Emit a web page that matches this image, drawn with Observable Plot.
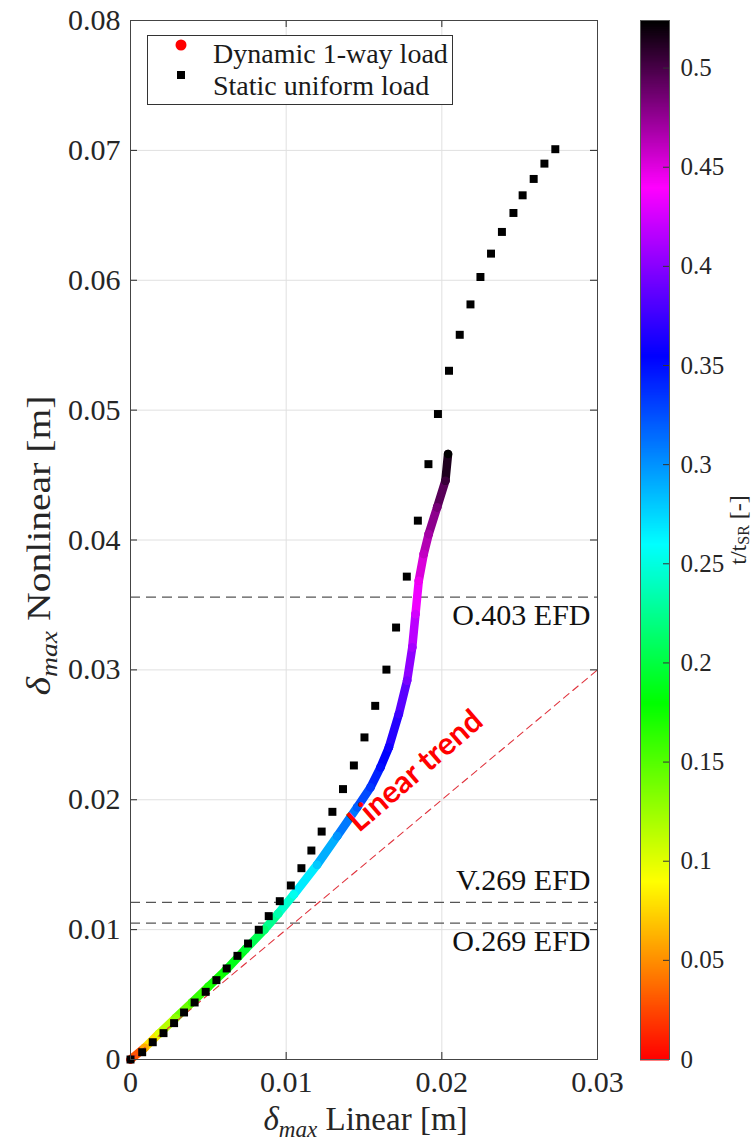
<!DOCTYPE html>
<html><head><meta charset="utf-8">
<script src="https://cdn.jsdelivr.net/npm/d3@7"></script>
<script src="https://cdn.jsdelivr.net/npm/@observablehq/plot@0.6"></script>
<style>
html,body{margin:0;padding:0;background:#fff;}
#wrap{position:relative;width:756px;height:1145px;overflow:hidden;background:#fff;}
#wrap svg{position:absolute;top:0;}
.legend{position:absolute;left:147px;top:35px;width:306px;height:70px;box-sizing:border-box;border:1px solid #333;background:#fff;font-family:"Liberation Serif",serif;font-size:28px;color:#1a1a1a;}
.row{position:absolute;left:0;height:32px;display:flex;align-items:center;white-space:nowrap;}
.mk{width:65px;display:flex;justify-content:center;align-items:center;}
</style></head><body><div id="wrap"></div>
<script>
// ---- data ----
const xTicks = [0, 0.01, 0.02, 0.03];
const yTicks = [0, 0.01, 0.02, 0.03, 0.04, 0.05, 0.06, 0.07, 0.08];
const cbTicks = [0, 0.05, 0.1, 0.15, 0.2, 0.25, 0.3, 0.35, 0.4, 0.45, 0.5];

// Static uniform load (black squares)
const staticX = [0, 0.00075, 0.00143, 0.00212, 0.0028, 0.00344, 0.00412, 0.00483, 0.00552, 0.00618, 0.00687, 0.00755, 0.00824, 0.00888, 0.00959, 0.0103, 0.01098, 0.01162, 0.01228, 0.01297, 0.01365, 0.01435, 0.01503, 0.01572, 0.01644, 0.01706, 0.01775, 0.01846, 0.01914, 0.01975, 0.02046, 0.02115, 0.02184, 0.02248, 0.02316, 0.02386, 0.0246, 0.02519, 0.0259, 0.02659, 0.02729];
const staticY = [0, 0.00056, 0.00133, 0.00203, 0.0028, 0.00362, 0.00439, 0.00521, 0.00611, 0.00701, 0.00798, 0.00893, 0.00999, 0.01104, 0.01219, 0.0134, 0.01473, 0.01609, 0.01755, 0.01907, 0.02082, 0.02264, 0.0248, 0.02723, 0.03002, 0.03326, 0.03718, 0.04149, 0.04584, 0.0497, 0.05303, 0.0558, 0.05814, 0.06025, 0.06205, 0.06372, 0.06518, 0.06654, 0.0678, 0.06898, 0.07009];

// Dynamic 1-way load (coloured by t/t_SR)
const dynX = [0, 0.00091, 0.00182, 0.0029, 0.00396, 0.005, 0.0061, 0.00739, 0.0086, 0.0095, 0.01049, 0.01199, 0.01328, 0.01456, 0.01542, 0.01606, 0.0166, 0.01724, 0.01777, 0.0181, 0.01831, 0.01852, 0.01884, 0.01916, 0.0197, 0.02023, 0.0204];
const dynY = [0, 0.0009, 0.00198, 0.0032, 0.00441, 0.0056, 0.00685, 0.0085, 0.01, 0.01125, 0.0127, 0.015, 0.0172, 0.01942, 0.02096, 0.0225, 0.02404, 0.02661, 0.02918, 0.03174, 0.03431, 0.03687, 0.03893, 0.04047, 0.04252, 0.04457, 0.04663];
const dynT = [0, 0.06, 0.10, 0.13, 0.155, 0.17, 0.18, 0.195, 0.215, 0.235, 0.255, 0.28, 0.30, 0.32, 0.335, 0.35, 0.36, 0.375, 0.395, 0.41, 0.425, 0.445, 0.46, 0.47, 0.485, 0.505, 0.524];

// Linear trend (y = x)
const trendX = [0, 0.03];
const trendY = [0, 0.03];
const trendLabel = ["Linear trend"];
const trendLabelPos = [0.0183, 0.0222];

// EFD reference levels
const efdNames = ["O.403 EFD", "V.269 EFD", "O.269 EFD"];
const efdValues = [0.0356, 0.0121, 0.0105];
const efdSide = ["below", "above", "below"];

// colour map
const tMax = 0.524;
const colorStops = [0, 0.045, 0.09, 0.18, 0.26, 0.355, 0.44, 0.524];
const colorRange = ["#ff0000", "#ff8000", "#ffff00", "#00ff00", "#00ffff", "#0000ff", "#ff00ff", "#000000"];

// ---- build ----
const SERIF = "'Liberation Serif', 'Times New Roman', serif";
const fmt = d => d === 0 ? "0" : String(+d.toFixed(3));
const colorOpt = {type: "linear", domain: colorStops, range: colorRange, interpolate: "rgb"};
const staticData = staticX.map((x, i) => ({x, y: staticY[i]}));
const segs = dynX.slice(1).map((_, i) => ({x1: dynX[i], y1: dynY[i], x2: dynX[i + 1], y2: dynY[i + 1], t: (dynT[i] + dynT[i + 1]) / 2}));
const dynData = dynX.map((x, i) => ({x, y: dynY[i], t: dynT[i]}));
const trendData = trendX.map((x, i) => ({x, y: trendY[i]}));
const efd = efdNames.map((name, i) => ({name, v: efdValues[i], side: efdSide[i]}));

const W = 756, H = 1145, ML = 130, MR = 159, MT = 20, MB = 86;
const PW = W - ML - MR, PH = H - MT - MB;
const ink = "#262626";

const main = Plot.plot({
  width: W, height: H, marginLeft: ML, marginRight: MR, marginTop: MT, marginBottom: MB,
  style: {fontFamily: SERIF, fontSize: "30px", color: ink, background: "transparent"},
  x: {domain: [0, 0.03]},
  y: {domain: [0, 0.08]},
  color: colorOpt,
  marks: [
    Plot.gridX(xTicks, {stroke: "#e0e0e0", strokeOpacity: 1}),
    Plot.gridY(yTicks, {stroke: "#e0e0e0", strokeOpacity: 1}),
    Plot.ruleY(efd, {y: "v", stroke: "#555", strokeWidth: 1.1, strokeDasharray: "10,6"}),
    Plot.link(segs, {x1: "x1", y1: "y1", x2: "x2", y2: "y2", stroke: "t", strokeWidth: 8.5, strokeLinecap: "round"}),
    Plot.dot(dynData, {x: "x", y: "y", fill: "t", r: 4.25}),
    Plot.line(trendData, {x: "x", y: "y", stroke: "#e0333d", strokeWidth: 1.1, strokeDasharray: "7,5"}),
    Plot.dot(staticData, {x: "x", y: "y", symbol: "square", r: 4.5, fill: "#000"}),
    Plot.text(efd.filter(d => d.side === "below"), {y: "v", text: "name", frameAnchor: "right", textAnchor: "end", dx: -7, dy: 18, fontSize: 30, fontFamily: SERIF, fill: "#111"}),
    Plot.text(efd.filter(d => d.side === "above"), {y: "v", text: "name", frameAnchor: "right", textAnchor: "end", dx: -7, dy: -22, fontSize: 30, fontFamily: SERIF, fill: "#111"}),
    Plot.text(trendLabel, {x: () => trendLabelPos[0], y: () => trendLabelPos[1], text: d => d, rotate: -41, fill: "#ff0000", fontWeight: "bold", fontFamily: "Lato, 'Liberation Sans', sans-serif", fontSize: 31}),
    Plot.ruleX(xTicks, {stroke: ink, insetTop: PH - 7}),
    Plot.ruleX(xTicks, {stroke: ink, insetBottom: PH - 7}),
    Plot.ruleY(yTicks, {stroke: ink, insetRight: PW - 7}),
    Plot.ruleY(yTicks, {stroke: ink, insetLeft: PW - 7}),
    Plot.frame({stroke: "#444"}),
    Plot.axisX(xTicks, {tickSize: 0, tickPadding: 11, tickFormat: fmt, label: null, fontSize: 30, fontFamily: SERIF, fill: ink}),
    Plot.axisY(yTicks, {tickSize: 0, tickPadding: 10, tickFormat: fmt, label: null, fontSize: 30, fontFamily: SERIF, fill: ink})
  ]
});
main.style.left = "0px";
main.setAttribute("font-family", SERIF);

const cbLeft = 600, cbW = 156, barL = 40, barW = 29;
const cbar = Plot.plot({
  width: cbW, height: H, marginLeft: barL, marginRight: cbW - barL - barW, marginTop: MT, marginBottom: MB,
  style: {fontFamily: SERIF, fontSize: "25px", color: ink, background: "transparent"},
  x: {domain: [0, 1], axis: null},
  y: {domain: [0, tMax], axis: null},
  color: colorOpt,
  marks: [
    Plot.ruleY(d3.range(0, tMax, 0.0005), {y: d => d, stroke: d => d, strokeWidth: 2}),
    Plot.ruleY(cbTicks.slice(1), {stroke: "#333", insetLeft: barW - 6}),
    Plot.frame({stroke: "#555"}),
    Plot.axisY(cbTicks, {anchor: "right", tickSize: 0, tickPadding: 11, tickFormat: fmt, label: null, fontSize: 25, fontFamily: SERIF, fill: ink})
  ]
});
cbar.style.left = cbLeft + "px";
cbar.setAttribute("font-family", SERIF);

const wrap = document.getElementById("wrap");
wrap.appendChild(main);
wrap.appendChild(cbar);

// axis titles
const svgM = d3.select(main);
function mathLabel(g, rest, size) {
  const t = g.append("text").attr("text-anchor", "middle").attr("font-family", SERIF).attr("font-size", size).attr("fill", ink);
  t.append("tspan").attr("font-style", "italic").text("δ");
  t.append("tspan").attr("font-style", "italic").attr("font-size", size * 0.7).attr("dy", size * 0.2).text("max");
  t.append("tspan").attr("dy", -size * 0.2).text(rest);
  return t;
}
mathLabel(svgM.append("g").attr("transform", `translate(${ML + PW / 2 + 2},1130)`), " Linear [m]", 33);
mathLabel(svgM.append("g").attr("transform", `translate(50,${MT + PH / 2 + 6}) rotate(-90) scale(1.2,1)`), " Nonlinear [m]", 33);

const svgC = d3.select(cbar);
const cl = svgC.append("g").attr("transform", `translate(${cbW - 10},${530}) rotate(-90)`)
  .append("text").attr("text-anchor", "middle").attr("font-family", SERIF).attr("font-size", 24).attr("fill", ink);
cl.append("tspan").text("t/t");
cl.append("tspan").attr("font-size", 16).attr("dy", 3).text("SR");
cl.append("tspan").attr("dy", -3).text(" [-]");

// legend
const leg = document.createElement("div");
leg.className = "legend";
leg.innerHTML = `
  <div class="row" style="top:2px"><span class="mk"><svg width="14" height="14"><circle cx="7" cy="7" r="5.5" fill="#ff0000"/></svg></span><span>Dynamic 1-way load</span></div>
  <div class="row" style="top:34px"><span class="mk"><svg width="10" height="10"><rect x="1" y="1" width="8" height="8" fill="#000"/></svg></span><span>Static uniform load</span></div>`;
wrap.appendChild(leg);
</script>
</body></html>
